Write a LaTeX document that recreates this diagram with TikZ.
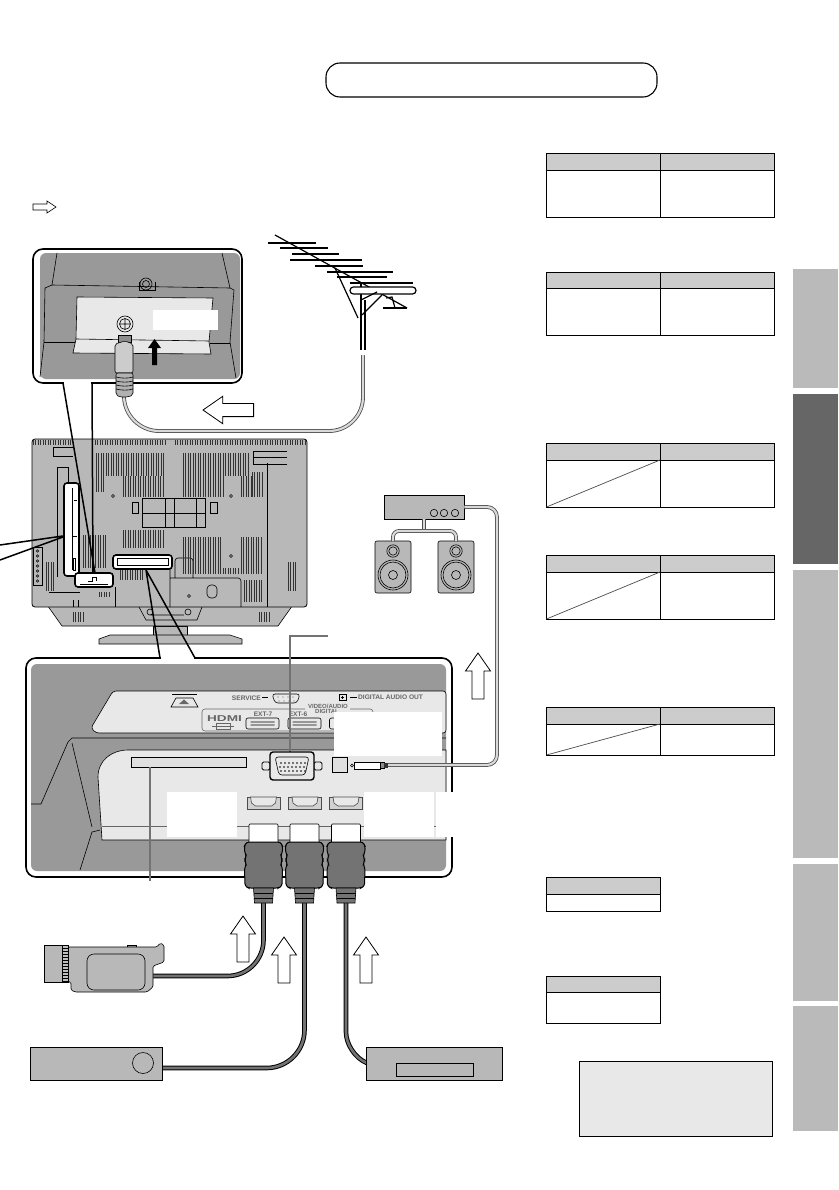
\documentclass[tikz,border=0pt]{standalone}
\usepackage{fontspec}
\setmainfont{Liberation Sans}
\usetikzlibrary{positioning,calc,arrows.meta}
\definecolor{bodygray}{gray}{0.72}
\definecolor{insetgray}{gray}{0.6}
\definecolor{panelgray}{gray}{0.91}
\definecolor{headgray}{gray}{0.8}
\definecolor{rubbergray}{gray}{0.45}
\definecolor{tabgray}{gray}{0.73}
\definecolor{tabdark}{gray}{0.4}
\definecolor{inkgray}{gray}{0.45}
\tikzset{
  thinline/.style={line width=.6pt},
  vent/.style={line width=1pt,black!80},
  frameline/.style={line width=1.6pt},
  antline/.style={line width=1.2pt},
  devbox/.style={draw,thinline,fill=bodygray,inner sep=0pt,rectangle},
  coverbox/.style={fill=white,inner sep=0pt,rectangle},
  portlabel/.style={inner sep=0pt,font=\fontsize{6.6}{6.6}\selectfont\bfseries,text=black!60},
  leadline/.style={line width=2.2pt,inkgray},
  lightcable/.style={draw=black!70,line width=.8pt,double=black!15,double distance=2.2pt},
  darkcable/.style={draw=black,line width=1pt,double=rubbergray,double distance=2.6pt},
  uparrow/.pic={\draw[fill=white,line width=.8pt] (0,0) -- (12.5,18) -- (6,18) -- (6,46) -- (-6,46) -- (-6,18) -- (-12.5,18) -- cycle;},
  hdmiplug/.pic={
    \draw[fill=white,thinline,rounded corners=1pt] (-14.5,-18) rectangle (14.5,1);
    \draw[fill=rubbergray,line width=1pt,rounded corners=2.5pt] (-17,0) -- (-19,4) -- (-19,10) -- (-17,14) -- (-19,18) -- (-17,22) -- (-19,26) -- (-18.5,44) -- (-15,46) -- (15,46) -- (18.5,44) -- (19,26) -- (17,22) -- (19,18) -- (17,14) -- (19,10) -- (19,4) -- (17,0) -- cycle;
    \draw[fill=rubbergray,thinline] (-10,46) -- (10,46) -- (9,61) -- (-9,61) -- cycle;
    \draw[thinline] (-9.5,51) -- (9.5,51) (-9.2,56) -- (9.2,56);
  },
  hdmiport/.pic={
    \draw[fill=black!18,draw=black!70,thinline] (-16.5,0) -- (16.5,0) -- (16.5,12) -- (-16.5,12) -- cycle;
    \draw[fill=panelgray,draw=black!70,thinline] (-13,0) -- (-12,6) -- (-8,9) -- (8,9) -- (12,6) -- (13,0) -- cycle;
  },
  speaker/.pic={
    \draw[fill=bodygray,thinline,rounded corners=2pt] (-18,0) rectangle (18,52);
    \draw[thinline] (0,10) circle[radius=6.2pt] (0,10) circle[radius=4.2pt];
    \draw[thinline] (0,34) circle[radius=15pt] (0,34) circle[radius=13pt] (0,34) circle[radius=4.5pt];
  },
}
\newcommand{\ventblock}[4]{%
  \pgfmathsetmacro{\ventnext}{#1+2.5}%
  \foreach \xv in {#1,\ventnext,...,#2} \draw[vent] (\xv,#3) -- (\xv,#4);}
\begin{document}
\begin{tikzpicture}[x=1pt,y=-1pt]
\useasboundingbox (0,0) rectangle (838,1190);
\fill[white] (0,0) rectangle (838,1190);

\node[draw,line width=1.1pt,rectangle,rounded corners=14pt,minimum width=331pt,minimum height=34pt,inner sep=0pt] (title) at (491.5,80) {};
\draw[fill=white,thinline] (56,207) -- (47,213) -- (47,210) -- (33,210) -- (33,204) -- (47,204) -- (47,201) -- cycle;

\foreach \ytab/\yend/\shade in {269/388/tabgray,394/564/tabdark,570/858/tabgray,864/1001/tabgray,1006/1131/tabgray}
  \fill[\shade] (793,\ytab) rectangle (838,\yend);

\foreach \ytop/\yhead/\ybot in {153/170/217,272/288.5/335,443/460/507,555/572/619,707/724/755} {
  \fill[headgray] (546.5,\ytop) rectangle (774,\yhead);
  \draw[line width=.9pt] (546.5,\ytop) rectangle (774,\ybot) (660,\ytop) -- (660,\ybot) (546.5,\yhead) -- (774,\yhead);
}
\foreach \yhead/\ybot in {460/507,572/619,724/755}
  \draw[line width=.7pt,black!70] (546.5,\ybot) -- (660,\yhead);
\foreach \ytop/\yhead/\ybot in {877/894/911,976/992/1023} {
  \fill[headgray] (546.5,\ytop) rectangle (660,\yhead);
  \draw[line width=.9pt] (546.5,\ytop) rectangle (660,\ybot) (546.5,\yhead) -- (660,\yhead);
}
\draw[fill=panelgray,line width=.9pt] (579,1061) rectangle (772,1136);

\draw[frameline,fill=white,rounded corners=10pt] (33,249) rectangle (242,383);
\fill[insetgray,rounded corners=6pt] (40,253) rectangle (240,379);
\draw[thinline] (57,253) -- (52,285) -- (45,288) -- (44,342) -- (40,377);
\draw[thinline] (52,285) -- (230,288) -- (234,290) -- (230,342) -- (236,378);
\draw[thinline] (222,253) -- (230,288);
\draw[thinline] (44,342) -- (76,342) (210,343) -- (230,343);
\draw[thinline,fill=panelgray] (77,297) -- (213,298) -- (209,342) -- (211,354) -- (73,353) -- (76,339) -- cycle;
\draw[thinline] (76,339) -- (209,341);
\draw[thinline] (146,284) circle[radius=6pt] (146,284) circle[radius=3.5pt];
\draw[thinline] (139,282) -- (139,290) -- (155,290) -- (155,282);
\node[coverbox,minimum width=65pt,minimum height=20pt] (labelant) at (185.5,320) {};
\draw[thinline,fill=panelgray] (125,324) circle[radius=8pt];
\draw[thinline] (125,324) circle[radius=5.5pt] (120,324) -- (130,324) (125,319) -- (125,329);
\fill (148,348) -- (154.5,339) -- (161,348) -- (157,348) -- (157,365) -- (152,365) -- (152,348) -- cycle;

\coordinate (antplug) at (124,397);
\coordinate (antfeed) at (363,355);
\draw[lightcable,rounded corners=34pt] (antfeed) -- (363,431) -- (125,431) -- (antplug);
\draw[line width=1pt,fill=black!45] (118,342) -- (118,335) -- (131,335) -- (131,342) -- cycle;
\draw[thinline,fill=black!20,rounded corners=2pt] (115,344) -- (115,373) -- (133,373) -- (133,344) -- (125,341) -- cycle;
\draw[thinline,fill=black!30,rounded corners=2pt] (116,373) -- (133,373) -- (133,395) -- (128,397) -- (120,397) -- (116,395) -- cycle;
\foreach \yr in {377,381,385,389} \draw[thinline] (116,\yr) .. controls (122,\yr+1.5) and (128,\yr+1.5) .. (133,\yr);

\draw[white,line width=2.4pt] (64,383) -- (91,383);

\foreach \yel/\xa/\xb in {243/268/316,248/280/328,254/292/339,260/290/362,266/315/363,272/327/393,277/337/387,283/350/413,308/383/407}
  \draw[antline] (\xa,\yel) -- (\xb,\yel);
\draw[antline] (275,235) -- (407,308);
\draw[antline] (335,268) -- (358,318);
\draw[antline] (361,283) -- (361,350) (365,300) -- (365,350);
\draw[antline,fill=white,rounded corners=3.4pt] (350,287) rectangle (416,294);
\draw[antline] (362,315) -- (382,295) (361,300) -- (377,292) (386,298) -- (392,297) -- (395,308);

\pic[scale=1.1,rotate=90] at (203,410) {uparrow};

\draw[thinline,fill=bodygray] (153,626) rectangle (187,636);
\draw[thinline,fill=bodygray] (99,639) -- (110,635) -- (230,635) -- (242,639) -- (242,644) -- (99,644) -- cycle;
\draw[thinline,fill=bodygray] (45,602) -- (295,602) -- (278,626) -- (62,626) -- cycle;
\draw[line width=.8pt,fill=bodygray,rounded corners=3pt] (32,439) rectangle (307,607);
\draw[thinline] (139,607) -- (146,620) -- (197,620) -- (202,607) (150,612) circle[radius=3pt] (188,612) circle[radius=3pt] (150,615) -- (184,615);
\draw[thinline] (267,463) -- (267,607) (253,451) -- (287,451) (253,451) -- (253,464) -- (287,464) (253,457) -- (287,457);
\draw[thinline] (53,447) -- (73,447) (53,447) -- (53,456) -- (73,456);
\draw[thinline] (57,577) -- (57,467) -- (68,467) -- (68,483);
\draw[thinline] (33,547) rectangle (42,585);
\foreach \ydot in {551,556,561,566,571,576,581} \draw[thinline] (37.5,\ydot) circle[radius=1.3pt];
\draw[thinline] (142,498) rectangle (205,527) (142,513) -- (205,513) (165,498) -- (165,527) (174,498) -- (174,527) (196,498) -- (196,527);
\draw[thinline] (132,502) rectangle (138,513) (210,502) rectangle (217,513);
\foreach \xd/\yd in {113/496,231/496,231/556,189/596} \draw[thinline] (\xd,\yd) circle[radius=1.5pt];
\draw[thinline,rounded corners=3pt] (170,557) -- (170,607) (175,578) -- (175,558) -- (193,558) -- (193,578) (170,578) -- (241,578) -- (241,607);
\draw[thinline,rounded corners=4pt] (207,585) rectangle (217,598);
\draw[thinline] (115,587) -- (115,607) (49,592) -- (80,592) (73,600) -- (73,607) (78,600) -- (78,607);
\ventblock{33}{72}{440}{445}
\ventblock{95}{165}{440}{445}
\ventblock{175}{305}{440}{445}
\ventblock{106}{165}{453}{476}
\ventblock{123}{165}{476}{497}
\ventblock{96}{104}{453}{492}
\ventblock{183}{250}{453}{476}
\ventblock{183}{223}{476}{497}
\ventblock{241}{251}{476}{497}
\ventblock{252}{263}{472}{497}
\ventblock{123}{165}{530}{548}
\ventblock{83}{106}{535}{568}
\ventblock{183}{222}{537}{574}
\ventblock{241}{263}{537}{574}
\ventblock{223}{238}{568}{574}
\ventblock{120}{143}{570}{580}
\ventblock{46}{55}{562}{591}
\ventblock{288}{296}{562}{591}
\ventblock{244}{262}{580}{602}
\ventblock{99}{110}{592}{597}
\ventblock{73}{85}{612}{622}
\ventblock{259}{270}{612}{622}

\draw[line width=1.5pt] (63,536) -- (0,545) (63,537) -- (0,560);
\draw[line width=1.5pt] (63,383) -- (95,573) (92,383) -- (93,573);
\draw[frameline,fill=white,rounded corners=3pt] (64,483) rectangle (79,576);
\draw[thinline] (72,488) -- (72,570) (74,500) -- (77,500) (73,536) -- (77,536) (73,558) rectangle (75,570);
\draw[frameline,fill=white,rounded corners=3pt] (75,573) rectangle (113,587);
\draw[thinline] (88,581) -- (92,581) -- (92,577) -- (96,577) -- (96,581) (80,584) -- (108,584);
\draw[frameline,fill=white,rounded corners=3pt] (113,555) rectangle (172,569);
\draw[thinline] (117,558) rectangle (168,565);

\node[devbox,minimum width=80pt,minimum height=24pt] (amp) at (424,507) {};
\foreach \xk in {434,444,455} \draw[thinline] (\xk,513) circle[radius=3.7pt];
\pic at (393,541) {speaker};
\pic at (456,541) {speaker};
\coordinate (spkleft) at (393,541);
\coordinate (spkright) at (456,541);
\draw[lightcable] (amp.south) -- (424,531);
\draw[lightcable,rounded corners=6pt] (spkleft) -- (393,531) -- (456,531) -- (spkright);
\pic at (478,653) {uparrow};

\draw[frameline,fill=white,rounded corners=10pt] (26,658) rectangle (452,877);
\fill[insetgray,rounded corners=6pt] (31,664) rectangle (446,871);
\draw[thinline] (31,804) -- (41,804) -- (68,742) -- (72,738) -- (446,738);
\draw[thinline] (72,743) -- (92,827);
\draw[thinline,fill=panelgray,rounded corners=3pt] (113,691) -- (446,691) -- (446,733) -- (96,733) -- (91,728) -- cycle;
\fill[panelgray,draw=black,thinline] (102,840) -- (98,777) .. controls (98,760) and (112,750) .. (128,750) -- (446,750) -- (446,840) -- cycle;
\draw[thinline,black!60] (102,826) -- (446,826);
\draw[thinline] (100,830) -- (92,832) -- (80,870);

\draw[thinline,fill=panelgray] (171,707) -- (176,698) -- (193,698) -- (198,707) -- cycle;
\draw[line width=.8pt] (172,694.5) -- (197,694.5);
\fill[black!60] (179,704) -- (184,699.5) -- (189,704) -- cycle;
\node[portlabel,anchor=east] (service) at (261,698) {SERVICE};
\draw[thinline] (262,697.5) -- (268,697.5);
\draw[thinline,fill=panelgray,rounded corners=3pt] (272,694) -- (300,694) -- (297,703) -- (275,703) -- cycle;
\foreach \xp in {278,283,288,293} \fill[black!60] (\xp,697) circle[radius=.7pt] (\xp+1,701) circle[radius=.7pt];
\draw[thinline] (339,694) rectangle (346,700) (342.5,695.5) -- (342.5,698.5) (341,697) -- (344,697);
\draw[thinline] (350,697) -- (357,697);
\node[portlabel,anchor=west] (audioout) at (358,697) {DIGITAL AUDIO OUT};
\draw[thinline,black!60,rounded corners=3pt] (305,709) -- (202,709) -- (202,731) -- (373,731) -- (373,709) -- (350,709);
\node[portlabel,font=\fontsize{6}{6}\selectfont\bfseries] (videoaudio) at (328,706) {VIDEO/AUDIO};
\node[portlabel,font=\fontsize{6}{6}\selectfont\bfseries] (digitalup) at (327,711.5) {DIGITAL};
\node[portlabel,font=\fontsize{8.5}{8.5}\selectfont\bfseries] (hdmi) at (224.5,719) {\scalebox{1.6}[1]{HDMI}};
\draw[thinline,black!60] (216,723) rectangle (230,729) (212,726) -- (234,726);
\node[portlabel] (extseven) at (263,714) {EXT-7};
\node[portlabel] (extsix) at (298,714) {EXT-6};
\foreach \xh in {262.5,304.5,346}
  \draw[thinline,rounded corners=2pt] (\xh-16.5,718) rectangle (\xh+16.5,729) (\xh-12,722) -- (\xh+12,722) (\xh-12,725) -- (\xh+12,725);

\draw[thinline,fill=black!12] (131,757) rectangle (246,767);
\draw[line width=1pt] (132,767) -- (246,767);
\draw[leadline] (328,636) -- (290,636) -- (290,752);
\draw[leadline] (150,767) -- (150,881);

\draw[line width=.8pt,fill=panelgray,rounded corners=1.5pt] (262,762) rectangle (270,770) (314,762) rectangle (322,770);
\draw[line width=1.4pt,fill=panelgray,rounded corners=3pt] (270,752) rectangle (314,780);
\draw[thinline,rounded corners=3pt] (275,757) -- (309,757) -- (305,775) -- (279,775) -- cycle;
\foreach \xp in {281,285,...,305} \fill (\xp,763) circle[radius=.9pt] (\xp-1,767) circle[radius=.9pt] (\xp,771) circle[radius=.9pt];

\coordinate (ampout) at (amp.east);
\coordinate (optplug) at (388,765);
\draw[lightcable,rounded corners=10pt] (ampout) -- (497,507) -- (497,765) -- (optplug);
\draw[thinline,fill=black!12] (332,757) rectangle (347,772);
\draw[thinline] (352,765.5) circle[radius=1.5pt];
\draw[thinline,fill=white] (354,762) rectangle (380,769);
\draw[thinline,fill=black!45] (380,762.5) rectangle (384,768.5);
\fill[black!80] (384,763) rectangle (388,768);

\pic at (263.5,797) {hdmiport};
\pic at (305,797) {hdmiport};
\pic at (346,797) {hdmiport};

\node[coverbox,minimum width=108pt,minimum height=44pt] (labeldigital) at (388,734) {};
\node[coverbox,minimum width=70pt,minimum height=45pt] (labelcard) at (202,814.5) {};
\node[coverbox,minimum width=70pt,minimum height=45pt] (labelhdmi) at (399,814.5) {};
\node[coverbox,minimum width=20pt,minimum height=45pt] (labeledge) at (446,814.5) {};

\draw[white,line width=2.4pt] (161,658) -- (194,658);
\draw[line width=1.5pt] (146,570) -- (160,658) (146,570) -- (195,658);

\coordinate (plugcam) at (263.5,900);
\coordinate (plugrec) at (304.5,900);
\coordinate (plugdvd) at (346,900);
\coordinate (camout) at (153,976);
\coordinate (recout) at (162,1068);
\coordinate (dvdout) at (367,1063);
\draw[darkcable,rounded corners=36pt] (plugcam) -- (263.5,976) -- (camout);
\draw[darkcable,rounded corners=38pt] (plugrec) -- (304.5,1068) -- (recout);
\draw[darkcable,rounded corners=22pt] (plugdvd) -- (346,1054) -- (dvdout);
\pic at (263.5,842) {hdmiplug};
\pic at (304.5,842) {hdmiplug};
\pic at (346,842) {hdmiplug};
\pic at (243,916) {uparrow};
\pic at (284,937) {uparrow};
\pic at (366,937) {uparrow};

\draw[thinline,fill=bodygray] (127,945) rectangle (136,948);
\draw[thinline,fill=bodygray,rounded corners=1.5pt] (68,947) -- (157,947) -- (160,943) -- (164,945) -- (164,962) -- (153,966) -- (153,987) -- (147,992) -- (75,992) -- (71,990) -- (71,982) -- (68,982) -- cycle;
\draw[thinline,fill=bodygray] (44,945) rectangle (62,982);
\draw[thinline,fill=black!25] (62,945) rectangle (68,982);
\foreach \yr in {948,951,...,981} \draw[line width=.4pt] (62,\yr) -- (68,\yr);
\draw[thinline,rounded corners=7pt] (87,954) rectangle (145,990);

\node[devbox,minimum width=132pt,minimum height=33pt] (receiver) at (96,1063.5) {};
\draw[thinline] (143,1063) circle[radius=10.5pt];
\node[devbox,minimum width=136pt,minimum height=33pt] (player) at (434,1063.5) {};
\draw[thinline] (396,1063) rectangle (473,1076);
\end{tikzpicture}
\end{document}
